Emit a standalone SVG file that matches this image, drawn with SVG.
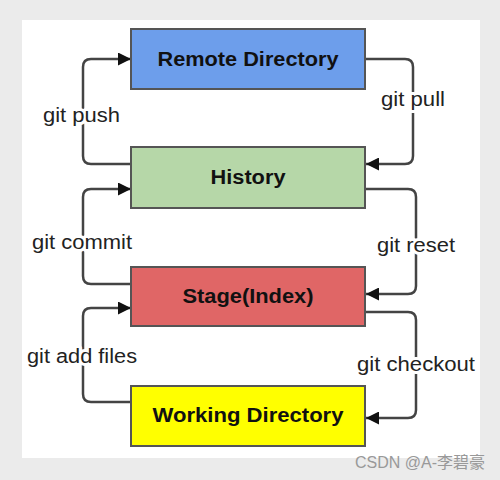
<svg xmlns="http://www.w3.org/2000/svg" width="500" height="480" viewBox="0 0 500 480">
<defs>
<marker id="arr" viewBox="0 0 10 10" refX="10" refY="5" markerWidth="13" markerHeight="13" markerUnits="userSpaceOnUse" orient="auto">
<path d="M0,0 L10,5 L0,10 z" fill="#111"/>
</marker>
<style>
.box{stroke:#555;stroke-width:2}
.title{font-family:"Liberation Sans",Arial,sans-serif;font-weight:bold;font-size:20px;fill:#111;text-anchor:middle}
.conn{fill:none;stroke:#444;stroke-width:2.5;marker-end:url(#arr)}
.lbl{font-family:"Liberation Sans",Arial,sans-serif;font-size:20px;fill:#222;stroke:#fff;stroke-width:6;paint-order:stroke;stroke-linejoin:round}
</style>
</defs>
<rect x="0" y="0" width="500" height="480" fill="#ebebeb"/>
<rect x="22" y="20" width="458" height="438" fill="#fff"/>
<g id="connectors">
<path class="conn" d="M131,164 H91 Q83,164 83,156 V67 Q83,59 91,59 H131"/>
<path class="conn" d="M365,59 H405 Q413,59 413,67 V156 Q413,164 405,164 H366"/>
<path class="conn" d="M131,284 H91 Q83,284 83,276 V197 Q83,189 91,189 H131"/>
<path class="conn" d="M365,189 H408 Q416,189 416,197 V286 Q416,294 408,294 H366"/>
<path class="conn" d="M131,402 H91 Q83,402 83,394 V316 Q83,308 91,308 H131"/>
<path class="conn" d="M365,312 H408 Q416,312 416,320 V410 Q416,418 408,418 H366"/>
<text class="lbl" x="43" y="122" textLength="77" lengthAdjust="spacingAndGlyphs">git push</text>
<text class="lbl" x="381" y="106" textLength="64" lengthAdjust="spacingAndGlyphs">git pull</text>
<text class="lbl" x="32" y="249" textLength="100" lengthAdjust="spacingAndGlyphs">git commit</text>
<text class="lbl" x="377" y="252" textLength="78" lengthAdjust="spacingAndGlyphs">git reset</text>
<text class="lbl" x="27" y="363" textLength="110" lengthAdjust="spacingAndGlyphs">git add files</text>
<text class="lbl" x="357" y="371" textLength="118" lengthAdjust="spacingAndGlyphs">git checkout</text>
</g>
<g id="remote">
<rect class="box" x="131" y="29" width="234" height="60" fill="#6d9eeb"/>
<text class="title" x="248" y="66" textLength="181" lengthAdjust="spacingAndGlyphs">Remote Directory</text>
</g>
<g id="history">
<rect class="box" x="131" y="147" width="234" height="61" fill="#b6d7a8"/>
<text class="title" x="248" y="184" textLength="75" lengthAdjust="spacingAndGlyphs">History</text>
</g>
<g id="stage">
<rect class="box" x="131" y="267" width="234" height="59" fill="#e06666"/>
<text class="title" x="248" y="303" textLength="131" lengthAdjust="spacingAndGlyphs">Stage(Index)</text>
</g>
<g id="working">
<rect class="box" x="131" y="386" width="234" height="60" fill="#ffff00"/>
<text class="title" x="248" y="422" textLength="191" lengthAdjust="spacingAndGlyphs">Working Directory</text>
</g>
<text x="485" y="468" text-anchor="end" font-family="'Liberation Sans','Noto Sans CJK SC',sans-serif" font-size="16" fill="#999">CSDN @A-李碧豪</text>
</svg>
